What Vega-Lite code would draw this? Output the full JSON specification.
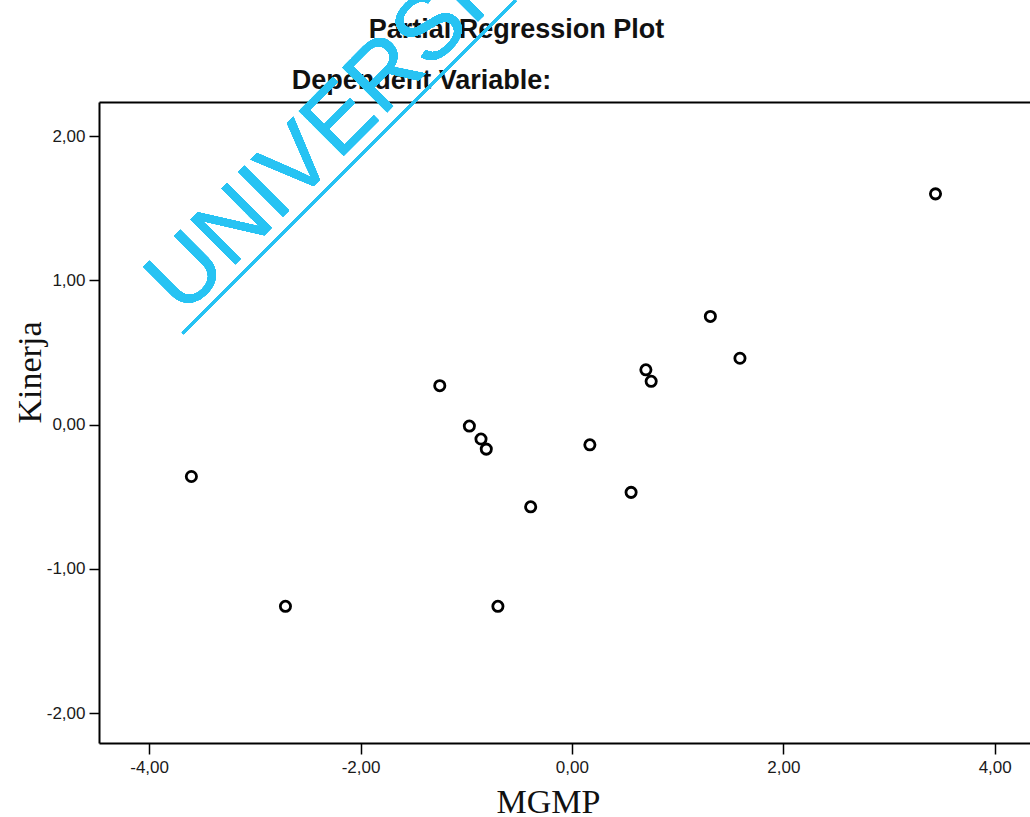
{
  "$schema": "https://vega.github.io/schema/vega-lite/v6.json",
  "width": 931,
  "height": 641,
  "autosize": "none",
  "padding": {"left": 99, "top": 102, "right": 0, "bottom": 74},
  "background": "white",
  "config": {"view": {"stroke": null}},
  "data": {
    "values": [
      {"MGMP": -3.60, "Kinerja": -0.36},
      {"MGMP": -2.71, "Kinerja": -1.26},
      {"MGMP": -1.25, "Kinerja": 0.27},
      {"MGMP": -0.97, "Kinerja": -0.01},
      {"MGMP": -0.86, "Kinerja": -0.10},
      {"MGMP": -0.81, "Kinerja": -0.17},
      {"MGMP": -0.70, "Kinerja": -1.26},
      {"MGMP": -0.39, "Kinerja": -0.57},
      {"MGMP": 0.17, "Kinerja": -0.14},
      {"MGMP": 0.56, "Kinerja": -0.47},
      {"MGMP": 0.70, "Kinerja": 0.38},
      {"MGMP": 0.75, "Kinerja": 0.30},
      {"MGMP": 1.31, "Kinerja": 0.75},
      {"MGMP": 1.59, "Kinerja": 0.46},
      {"MGMP": 3.44, "Kinerja": 1.60}
    ]
  },
  "layer": [
    {
      "mark": {"type": "point", "filled": false, "color": "black", "size": 105, "strokeWidth": 2.8, "opacity": 1},
      "encoding": {
        "x": {
          "field": "MGMP", "type": "quantitative",
          "scale": {"domain": [-4.474, 4.334], "nice": false, "zero": false},
          "axis": {
            "orient": "bottom",
            "values": [-4, -2, 0, 2, 4],
            "labelExpr": "replace(replace(format(datum.value, '.2f'), '.', ','), '\u2212', '-')",
            "grid": false,
            "domainColor": "black", "domainWidth": 2,
            "tickColor": "black", "tickWidth": 1.5, "tickSize": 11,
            "labelFont": "Liberation Sans", "labelFontSize": 17, "labelColor": "#1a1a1a", "labelPadding": 5,
            "title": "MGMP",
            "titleFont": "Liberation Serif", "titleFontSize": 34, "titleFontWeight": "normal", "titleColor": "#111",
            "titleX": 449, "titleY": 69, "titleBaseline": "alphabetic", "titleAlign": "center"
          }
        },
        "y": {
          "field": "Kinerja", "type": "quantitative",
          "scale": {"domain": [-2.208, 2.237], "nice": false, "zero": false},
          "axis": {
            "values": [-2, -1, 0, 1, 2],
            "labelExpr": "replace(replace(format(datum.value, '.2f'), '.', ','), '\u2212', '-')",
            "grid": false,
            "domainColor": "black", "domainWidth": 2,
            "tickColor": "black", "tickWidth": 1.5, "tickSize": 10,
            "labelFont": "Liberation Sans", "labelFontSize": 17, "labelColor": "#1a1a1a", "labelPadding": 4,
            "title": "Kinerja",
            "titleFont": "Liberation Serif", "titleFontSize": 34, "titleFontWeight": "normal", "titleColor": "#111",
            "titleX": -59, "titleY": 270, "titleBaseline": "alphabetic", "titleAngle": -90, "titleAlign": "center"
          }
        }
      }
    },
    {
      "mark": {"type": "text", "font": "Liberation Sans", "fontSize": 92, "angle": -45, "align": "left", "baseline": "alphabetic", "color": "#27C3F3"},
      "encoding": {
        "x": {"datum": -3.68, "type": "quantitative", "axis": {
          "orient": "top", "labels": false, "ticks": false, "grid": false, "domainColor": "black", "domainWidth": 2,
          "title": "Dependent Variable:",
          "titleFont": "Liberation Sans", "titleFontSize": 27, "titleFontWeight": "bold", "titleColor": "#111",
          "titleX": 322, "titleY": -14, "titleBaseline": "alphabetic", "titleAlign": "center"
        }},
        "y": {"datum": 0.75, "type": "quantitative", "axis": null},
        "text": {"value": "UNIVERSI"}
      }
    },
    {
      "mark": {"type": "rule", "color": "#27C3F3", "strokeWidth": 2.5},
      "encoding": {
        "x": {"datum": -3.683, "type": "quantitative", "axis": {
          "orient": "top", "labels": false, "ticks": false, "grid": false, "domain": false,
          "title": "Partial Regression Plot",
          "titleFont": "Liberation Sans", "titleFontSize": 27, "titleFontWeight": "bold", "titleColor": "#111",
          "titleX": 417, "titleY": -65, "titleBaseline": "alphabetic", "titleAlign": "center"
        }},
        "y": {"datum": 0.633, "type": "quantitative", "axis": null},
        "x2": {"datum": -0.532},
        "y2": {"datum": 2.942}
      }
    }
  ],
  "resolve": {"axis": {"x": "independent", "y": "independent"}}
}
